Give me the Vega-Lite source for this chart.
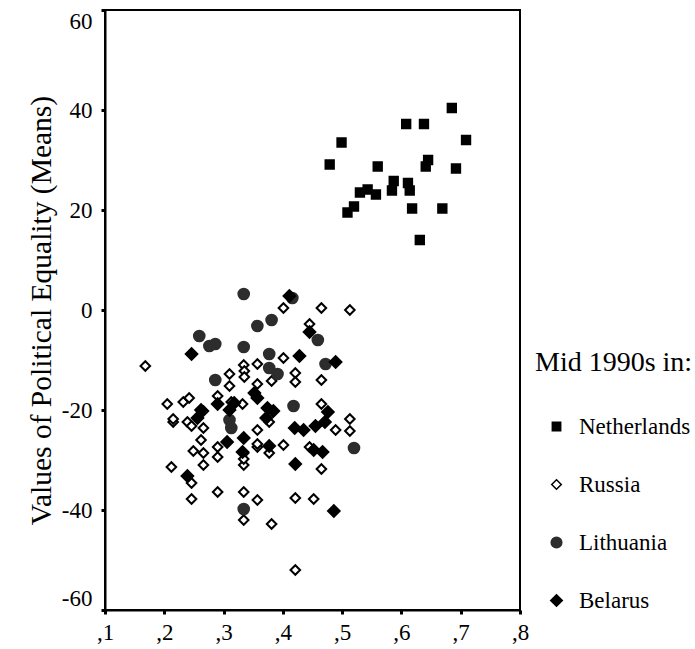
{
  "$schema": "https://vega.github.io/schema/vega-lite/v6.json",
  "autosize": {"type": "none"},
  "width": 415,
  "height": 600,
  "padding": {"left": 105, "top": 10, "right": 175, "bottom": 39},
  "background": "white",
  "config": {
    "view": {"stroke": "black", "strokeWidth": 2},
    "font": "Liberation Serif",
    "axis": {
      "grid": false,
      "domainColor": "black",
      "domainWidth": 2,
      "tickColor": "black",
      "tickSize": 4,
      "tickWidth": 3,
      "labelFont": "Liberation Serif",
      "labelFontSize": 23,
      "labelColor": "black",
      "titleFont": "Liberation Serif",
      "titleFontWeight": "normal",
      "titleColor": "black"
    },
    "legend": {
      "titleFont": "Liberation Serif",
      "titleFontSize": 28,
      "titleFontWeight": "normal",
      "titleColor": "black",
      "labelFont": "Liberation Serif",
      "labelFontSize": 23,
      "labelColor": "black"
    }
  },
  "data": {
    "values": [
      {"c": "Russia", "x": 0.168, "y": -11.2},
      {"c": "Russia", "x": 0.401, "y": 0.4},
      {"c": "Russia", "x": 0.465, "y": 0.4},
      {"c": "Russia", "x": 0.513, "y": 0.0},
      {"c": "Russia", "x": 0.445, "y": -2.8},
      {"c": "Russia", "x": 0.465, "y": -14.0},
      {"c": "Russia", "x": 0.465, "y": -18.8},
      {"c": "Russia", "x": 0.489, "y": -24.0},
      {"c": "Russia", "x": 0.513, "y": -21.8},
      {"c": "Russia", "x": 0.513, "y": -24.2},
      {"c": "Russia", "x": 0.445, "y": -27.4},
      {"c": "Russia", "x": 0.465, "y": -31.8},
      {"c": "Russia", "x": 0.452, "y": -37.8},
      {"c": "Russia", "x": 0.421, "y": -52.0},
      {"c": "Russia", "x": 0.212, "y": -31.4},
      {"c": "Russia", "x": 0.246, "y": -34.6},
      {"c": "Russia", "x": 0.246, "y": -37.8},
      {"c": "Russia", "x": 0.290, "y": -36.4},
      {"c": "Russia", "x": 0.334, "y": -36.4},
      {"c": "Russia", "x": 0.357, "y": -38.0},
      {"c": "Russia", "x": 0.334, "y": -42.0},
      {"c": "Russia", "x": 0.381, "y": -42.8},
      {"c": "Russia", "x": 0.421, "y": -37.6},
      {"c": "Russia", "x": 0.266, "y": -31.0},
      {"c": "Russia", "x": 0.290, "y": -29.4},
      {"c": "Russia", "x": 0.334, "y": -31.0},
      {"c": "Russia", "x": 0.334, "y": -28.6},
      {"c": "Russia", "x": 0.334, "y": -29.8},
      {"c": "Russia", "x": 0.249, "y": -28.2},
      {"c": "Russia", "x": 0.266, "y": -28.6},
      {"c": "Russia", "x": 0.290, "y": -27.4},
      {"c": "Russia", "x": 0.357, "y": -27.4},
      {"c": "Russia", "x": 0.377, "y": -28.6},
      {"c": "Russia", "x": 0.401, "y": -27.0},
      {"c": "Russia", "x": 0.215, "y": -22.4},
      {"c": "Russia", "x": 0.239, "y": -22.4},
      {"c": "Russia", "x": 0.246, "y": -23.2},
      {"c": "Russia", "x": 0.266, "y": -23.6},
      {"c": "Russia", "x": 0.262, "y": -26.0},
      {"c": "Russia", "x": 0.310, "y": -12.8},
      {"c": "Russia", "x": 0.310, "y": -15.2},
      {"c": "Russia", "x": 0.205, "y": -18.8},
      {"c": "Russia", "x": 0.232, "y": -18.4},
      {"c": "Russia", "x": 0.242, "y": -17.6},
      {"c": "Russia", "x": 0.290, "y": -17.2},
      {"c": "Russia", "x": 0.313, "y": -18.4},
      {"c": "Russia", "x": 0.266, "y": -20.2},
      {"c": "Russia", "x": 0.215, "y": -21.8},
      {"c": "Russia", "x": 0.401, "y": -9.6},
      {"c": "Russia", "x": 0.357, "y": -10.8},
      {"c": "Russia", "x": 0.334, "y": -11.0},
      {"c": "Russia", "x": 0.335, "y": -12.2},
      {"c": "Russia", "x": 0.335, "y": -13.4},
      {"c": "Russia", "x": 0.421, "y": -12.6},
      {"c": "Russia", "x": 0.421, "y": -14.4},
      {"c": "Russia", "x": 0.381, "y": -14.2},
      {"c": "Russia", "x": 0.357, "y": -14.8},
      {"c": "Russia", "x": 0.332, "y": -18.8},
      {"c": "Russia", "x": 0.377, "y": -22.4},
      {"c": "Russia", "x": 0.357, "y": -24.0},
      {"c": "Russia", "x": 0.357, "y": -26.8},
      {"c": "Lithuania", "x": 0.334, "y": 3.2},
      {"c": "Lithuania", "x": 0.416, "y": 2.4},
      {"c": "Lithuania", "x": 0.381, "y": -2.0},
      {"c": "Lithuania", "x": 0.357, "y": -3.2},
      {"c": "Lithuania", "x": 0.259, "y": -5.2},
      {"c": "Lithuania", "x": 0.286, "y": -6.8},
      {"c": "Lithuania", "x": 0.276, "y": -7.2},
      {"c": "Lithuania", "x": 0.334, "y": -7.4},
      {"c": "Lithuania", "x": 0.459, "y": -6.0},
      {"c": "Lithuania", "x": 0.377, "y": -8.8},
      {"c": "Lithuania", "x": 0.472, "y": -10.8},
      {"c": "Lithuania", "x": 0.377, "y": -11.6},
      {"c": "Lithuania", "x": 0.391, "y": -12.8},
      {"c": "Lithuania", "x": 0.286, "y": -14.0},
      {"c": "Lithuania", "x": 0.418, "y": -19.2},
      {"c": "Lithuania", "x": 0.310, "y": -22.0},
      {"c": "Lithuania", "x": 0.313, "y": -23.6},
      {"c": "Lithuania", "x": 0.334, "y": -39.8},
      {"c": "Lithuania", "x": 0.520, "y": -27.6},
      {"c": "Belarus", "x": 0.411, "y": 2.8},
      {"c": "Belarus", "x": 0.445, "y": -4.4},
      {"c": "Belarus", "x": 0.489, "y": -10.4},
      {"c": "Belarus", "x": 0.428, "y": -9.2},
      {"c": "Belarus", "x": 0.246, "y": -8.8},
      {"c": "Belarus", "x": 0.290, "y": -18.8},
      {"c": "Belarus", "x": 0.262, "y": -20.0},
      {"c": "Belarus", "x": 0.310, "y": -20.0},
      {"c": "Belarus", "x": 0.352, "y": -16.6},
      {"c": "Belarus", "x": 0.357, "y": -17.6},
      {"c": "Belarus", "x": 0.318, "y": -18.6},
      {"c": "Belarus", "x": 0.374, "y": -19.6},
      {"c": "Belarus", "x": 0.384, "y": -20.2},
      {"c": "Belarus", "x": 0.256, "y": -21.6},
      {"c": "Belarus", "x": 0.306, "y": -26.4},
      {"c": "Belarus", "x": 0.372, "y": -21.6},
      {"c": "Belarus", "x": 0.334, "y": -25.6},
      {"c": "Belarus", "x": 0.377, "y": -27.2},
      {"c": "Belarus", "x": 0.420, "y": -23.6},
      {"c": "Belarus", "x": 0.435, "y": -24.0},
      {"c": "Belarus", "x": 0.455, "y": -23.2},
      {"c": "Belarus", "x": 0.471, "y": -22.4},
      {"c": "Belarus", "x": 0.452, "y": -28.0},
      {"c": "Belarus", "x": 0.467, "y": -28.4},
      {"c": "Belarus", "x": 0.421, "y": -30.8},
      {"c": "Belarus", "x": 0.476, "y": -20.4},
      {"c": "Belarus", "x": 0.486, "y": -40.2},
      {"c": "Belarus", "x": 0.239, "y": -33.2},
      {"c": "Belarus", "x": 0.332, "y": -28.4},
      {"c": "Netherlands", "x": 0.685, "y": 40.4},
      {"c": "Netherlands", "x": 0.608, "y": 37.2},
      {"c": "Netherlands", "x": 0.638, "y": 37.2},
      {"c": "Netherlands", "x": 0.499, "y": 33.5},
      {"c": "Netherlands", "x": 0.709, "y": 34.0},
      {"c": "Netherlands", "x": 0.479, "y": 29.1},
      {"c": "Netherlands", "x": 0.560, "y": 28.7},
      {"c": "Netherlands", "x": 0.645, "y": 30.0},
      {"c": "Netherlands", "x": 0.641, "y": 28.7},
      {"c": "Netherlands", "x": 0.692, "y": 28.3},
      {"c": "Netherlands", "x": 0.587, "y": 25.8},
      {"c": "Netherlands", "x": 0.611, "y": 25.4},
      {"c": "Netherlands", "x": 0.584, "y": 23.9},
      {"c": "Netherlands", "x": 0.614, "y": 23.9},
      {"c": "Netherlands", "x": 0.530, "y": 23.5},
      {"c": "Netherlands", "x": 0.543, "y": 24.1},
      {"c": "Netherlands", "x": 0.557, "y": 23.1},
      {"c": "Netherlands", "x": 0.520, "y": 20.7},
      {"c": "Netherlands", "x": 0.509, "y": 19.5},
      {"c": "Netherlands", "x": 0.618, "y": 20.3},
      {"c": "Netherlands", "x": 0.669, "y": 20.3},
      {"c": "Netherlands", "x": 0.631, "y": 14.0}
    ]
  },
  "mark": {"type": "point", "filled": true, "opacity": 1, "strokeWidth": 2},
  "encoding": {
    "x": {
      "field": "x", "type": "quantitative",
      "scale": {"domain": [0.1, 0.8], "nice": false, "zero": false},
      "axis": {
        "title": null,
        "values": [0.1, 0.2, 0.3, 0.4, 0.5, 0.6, 0.7, 0.8],
        "labelExpr": "',' + toString(round(datum.value * 10))",
        "labelPadding": 7,
        "labelFlush": false
      }
    },
    "y": {
      "field": "y", "type": "quantitative",
      "scale": {"domain": [-60, 60], "nice": false, "zero": false},
      "axis": {
        "title": "Values of Political Equality (Means)",
        "titleFontSize": 29.5,
        "values": [-60, -40, -20, 0, 20, 40, 60],
        "labelExpr": "toString(datum.value)",
        "labelPadding": 9,
        "labelFlush": true,
        "titlePadding": 5
      }
    },
    "shape": {
      "field": "c", "type": "nominal",
      "scale": {"domain": ["Netherlands", "Russia", "Lithuania", "Belarus"], "range": ["square", "diamond", "circle", "diamond"]},
      "legend": {
        "title": "Mid 1990s in:",
        "orient": "none",
        "legendX": 430,
        "legendY": 339,
        "titlePadding": 38,
        "rowPadding": 34,
        "symbolOffset": 10,
        "labelOffset": 11
      }
    },
    "fill": {
      "field": "c", "type": "nominal",
      "scale": {"domain": ["Netherlands", "Russia", "Lithuania", "Belarus"], "range": ["black", "white", "#2d2d2d", "black"]}
    },
    "stroke": {
      "field": "c", "type": "nominal",
      "scale": {"domain": ["Netherlands", "Russia", "Lithuania", "Belarus"], "range": ["black", "black", "#2d2d2d", "black"]}
    },
    "size": {
      "field": "c", "type": "nominal",
      "scale": {"domain": ["Netherlands", "Russia", "Lithuania", "Belarus"], "range": [70, 135, 185, 140]}
    }
  }
}
